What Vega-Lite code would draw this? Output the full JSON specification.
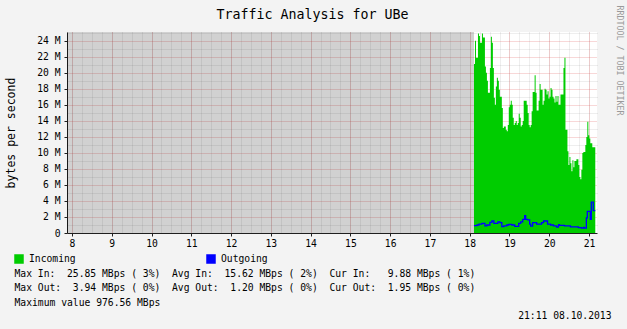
{
  "$schema": "https://vega.github.io/schema/vega-lite/v6.json",
  "width": 530,
  "height": 201,
  "autosize": {"type": "none"},
  "padding": {"left": 67, "top": 32, "right": 30, "bottom": 96},
  "background": "#f3f3f3",
  "config": {"view": {"fill": "#ffffff", "stroke": null}, "font": "DejaVu Sans Mono"},
  "title": {"text": "Traffic Analysis for UBe", "font": "DejaVu Sans Mono", "fontSize": 13.3, "fontWeight": "normal", "color": "#000000", "anchor": "middle", "frame": "group", "dx": -19.5, "dy": 23, "baseline": "middle", "offset": 0},
  "datasets": {
    "unknown": [{"t0": 7.87, "t1": 18.108}],
    "traffic": [
      {"t": 18.108, "in": 21.1, "out": 0.92}, {"t": 18.133, "in": 24.0, "out": 0.92}, {"t": 18.158, "in": 21.9, "out": 0.92}, {"t": 18.183, "in": 21.9, "out": 1.0},
      {"t": 18.208, "in": 24.9, "out": 1.0}, {"t": 18.233, "in": 24.6, "out": 1.1}, {"t": 18.258, "in": 23.75, "out": 1.1}, {"t": 18.283, "in": 23.75, "out": 1.1},
      {"t": 18.308, "in": 24.9, "out": 1.2}, {"t": 18.333, "in": 24.4, "out": 1.2}, {"t": 18.358, "in": 24.4, "out": 1.2}, {"t": 18.383, "in": 20.8, "out": 0.9},
      {"t": 18.408, "in": 20.0, "out": 0.9}, {"t": 18.433, "in": 19.0, "out": 1.0}, {"t": 18.458, "in": 17.5, "out": 1.0}, {"t": 18.483, "in": 17.5, "out": 1.0},
      {"t": 18.508, "in": 20.6, "out": 1.33}, {"t": 18.533, "in": 24.5, "out": 1.33}, {"t": 18.558, "in": 23.75, "out": 1.5}, {"t": 18.583, "in": 20.6, "out": 1.5},
      {"t": 18.608, "in": 16.9, "out": 1.2}, {"t": 18.633, "in": 16.0, "out": 1.2}, {"t": 18.658, "in": 18.3, "out": 1.2}, {"t": 18.683, "in": 19.4, "out": 1.2},
      {"t": 18.708, "in": 19.0, "out": 1.4}, {"t": 18.733, "in": 17.9, "out": 1.4}, {"t": 18.758, "in": 17.0, "out": 1.3}, {"t": 18.783, "in": 17.0, "out": 1.3},
      {"t": 18.808, "in": 15.6, "out": 0.8}, {"t": 18.833, "in": 13.1, "out": 0.8}, {"t": 18.858, "in": 13.3, "out": 0.88}, {"t": 18.883, "in": 13.3, "out": 0.88},
      {"t": 18.908, "in": 12.9, "out": 0.88}, {"t": 18.933, "in": 12.7, "out": 1.0}, {"t": 18.958, "in": 13.5, "out": 1.0}, {"t": 18.983, "in": 15.7, "out": 1.08},
      {"t": 19.008, "in": 16.0, "out": 1.08}, {"t": 19.033, "in": 16.5, "out": 1.08}, {"t": 19.058, "in": 16.0, "out": 1.0}, {"t": 19.083, "in": 14.4, "out": 1.0},
      {"t": 19.108, "in": 13.5, "out": 1.0}, {"t": 19.133, "in": 13.75, "out": 0.83}, {"t": 19.158, "in": 14.0, "out": 0.83}, {"t": 19.183, "in": 13.5, "out": 0.83},
      {"t": 19.208, "in": 13.75, "out": 0.83}, {"t": 19.233, "in": 14.9, "out": 1.2}, {"t": 19.258, "in": 14.4, "out": 1.2}, {"t": 19.283, "in": 13.3, "out": 1.4},
      {"t": 19.308, "in": 13.5, "out": 1.4}, {"t": 19.333, "in": 14.0, "out": 1.7}, {"t": 19.358, "in": 16.5, "out": 1.7}, {"t": 19.383, "in": 16.5, "out": 2.17},
      {"t": 19.408, "in": 16.5, "out": 1.7}, {"t": 19.433, "in": 16.0, "out": 1.7}, {"t": 19.458, "in": 15.0, "out": 1.63}, {"t": 19.483, "in": 13.5, "out": 1.63},
      {"t": 19.508, "in": 13.2, "out": 1.1}, {"t": 19.533, "in": 13.5, "out": 0.85}, {"t": 19.558, "in": 15.2, "out": 0.85}, {"t": 19.583, "in": 17.6, "out": 1.3},
      {"t": 19.608, "in": 17.6, "out": 1.3}, {"t": 19.633, "in": 19.7, "out": 1.3}, {"t": 19.658, "in": 17.5, "out": 1.3}, {"t": 19.683, "in": 15.3, "out": 1.1},
      {"t": 19.708, "in": 15.3, "out": 1.1}, {"t": 19.733, "in": 16.5, "out": 1.1}, {"t": 19.758, "in": 18.6, "out": 1.1}, {"t": 19.783, "in": 17.9, "out": 1.1},
      {"t": 19.808, "in": 17.9, "out": 1.3}, {"t": 19.833, "in": 16.0, "out": 1.3}, {"t": 19.858, "in": 16.5, "out": 1.5}, {"t": 19.883, "in": 18.0, "out": 1.5},
      {"t": 19.908, "in": 17.9, "out": 1.5}, {"t": 19.933, "in": 17.3, "out": 1.5}, {"t": 19.958, "in": 17.7, "out": 1.1}, {"t": 19.983, "in": 16.8, "out": 1.1},
      {"t": 20.008, "in": 17.0, "out": 1.1}, {"t": 20.033, "in": 18.1, "out": 1.0}, {"t": 20.058, "in": 17.9, "out": 1.0}, {"t": 20.083, "in": 17.0, "out": 1.0},
      {"t": 20.108, "in": 16.8, "out": 0.9}, {"t": 20.133, "in": 16.3, "out": 0.9}, {"t": 20.158, "in": 17.1, "out": 0.9}, {"t": 20.183, "in": 16.4, "out": 0.75},
      {"t": 20.208, "in": 17.1, "out": 0.75}, {"t": 20.233, "in": 16.0, "out": 1.05}, {"t": 20.258, "in": 16.0, "out": 0.95}, {"t": 20.283, "in": 17.3, "out": 0.95},
      {"t": 20.308, "in": 17.3, "out": 0.95}, {"t": 20.333, "in": 17.3, "out": 0.95}, {"t": 20.358, "in": 20.6, "out": 0.95}, {"t": 20.383, "in": 21.9, "out": 0.88},
      {"t": 20.408, "in": 12.9, "out": 0.88}, {"t": 20.433, "in": 12.9, "out": 0.88}, {"t": 20.458, "in": 10.2, "out": 0.88}, {"t": 20.483, "in": 8.5, "out": 0.88},
      {"t": 20.508, "in": 9.5, "out": 0.88}, {"t": 20.533, "in": 8.7, "out": 0.77}, {"t": 20.558, "in": 7.7, "out": 0.77}, {"t": 20.583, "in": 9.1, "out": 0.77},
      {"t": 20.608, "in": 8.2, "out": 0.77}, {"t": 20.633, "in": 9.0, "out": 0.77}, {"t": 20.658, "in": 9.0, "out": 0.77}, {"t": 20.683, "in": 9.2, "out": 0.77},
      {"t": 20.708, "in": 9.2, "out": 0.77}, {"t": 20.733, "in": 8.5, "out": 0.68}, {"t": 20.758, "in": 7.0, "out": 0.68}, {"t": 20.783, "in": 6.7, "out": 0.68},
      {"t": 20.808, "in": 7.9, "out": 0.62}, {"t": 20.833, "in": 10.0, "out": 0.62}, {"t": 20.858, "in": 10.1, "out": 0.7}, {"t": 20.883, "in": 10.1, "out": 0.62},
      {"t": 20.908, "in": 11.0, "out": 0.62}, {"t": 20.933, "in": 12.0, "out": 1.9}, {"t": 20.958, "in": 13.9, "out": 2.7}, {"t": 20.983, "in": 12.2, "out": 2.7},
      {"t": 21.008, "in": 11.8, "out": 2.7}, {"t": 21.033, "in": 11.2, "out": 1.7}, {"t": 21.058, "in": 11.2, "out": 3.85}, {"t": 21.083, "in": 10.7, "out": 3.85},
      {"t": 21.108, "in": 10.7, "out": 2.8}, {"t": 21.133, "in": 10.7, "out": 2.8}, {"t": 21.158, "in": 10.7, "out": 2.8}
    ]
  },
  "layer": [
    {
      "data": {"name": "unknown"},
      "mark": {"type": "rect", "fill": "#000000", "opacity": 0.18, "clip": true},
      "encoding": {
        "x": {"field": "t0", "type": "quantitative", "axis": null, "scale": {"domain": [7.8743, 21.2012], "nice": false, "zero": false}},
        "x2": {"field": "t1"}
      }
    },
    {
      "data": {"name": "traffic"},
      "mark": {"type": "area", "interpolate": "step-after", "opacity": 1},
      "encoding": {
        "x": {"field": "t", "type": "quantitative", "scale": {"domain": [7.8743, 21.2012], "nice": false, "zero": false},
          "axis": {"orient": "bottom", "values": [8, 8.25, 8.5, 8.75, 9, 9.25, 9.5, 9.75, 10, 10.25, 10.5, 10.75, 11, 11.25, 11.5, 11.75, 12, 12.25, 12.5, 12.75, 13, 13.25, 13.5, 13.75, 14, 14.25, 14.5, 14.75, 15, 15.25, 15.5, 15.75, 16, 16.25, 16.5, 16.75, 17, 17.25, 17.5, 17.75, 18, 18.25, 18.5, 18.75, 19, 19.25, 19.5, 19.75, 20, 20.25, 20.5, 20.75, 21],
            "grid": true, "gridColor": "#808080", "gridOpacity": 0.28, "gridDash": [1, 1], "labels": false, "ticks": false, "domain": false,
            "title": "21:11 08.10.2013", "titleFont": "DejaVu Sans Mono", "titleFontSize": 9.7, "titleFontWeight": "normal", "titleColor": "#000000",
            "titleX": 544, "titleY": 82.3, "titleAlign": "right", "titleBaseline": "middle", "titleAngle": 0}},
        "y": {"field": "in", "type": "quantitative", "scale": {"domain": [0, 25.1], "nice": false},
          "axis": {"orient": "right", "values": [1, 3, 5, 7, 9, 11, 13, 15, 17, 19, 21, 23, 25],
            "grid": true, "gridColor": "#808080", "gridOpacity": 0.28, "gridDash": [1, 1], "labels": false, "ticks": false, "domain": false,
            "title": "RRDTOOL / TOBI OETIKER", "titleFont": "DejaVu Sans Mono", "titleFontSize": 8.3, "titleFontWeight": "normal", "titleColor": "#9a9a9a",
            "titleAngle": 90, "titleX": 21, "titleY": 28, "titleAlign": "center", "titleBaseline": "middle"}},
        "color": {"datum": "Incoming", "type": "nominal",
          "scale": {"domain": ["Incoming", "Outgoing"], "range": ["#00cc00", "#0000ff"]},
          "legend": {"orient": "none", "legendX": -53, "legendY": 222, "direction": "horizontal", "title": null, "padding": 0,
            "symbolType": "square", "symbolSize": 64, "labelFont": "DejaVu Sans Mono", "labelFontSize": 9.7, "labelColor": "#000000",
            "labelOffset": 5, "columnPadding": 128,
            "encode": {"symbols": {"update": {"fill": {"scale": "color", "field": "value"}, "stroke": {"value": "#000000"}, "strokeWidth": {"value": 1}, "opacity": {"value": 1}}}}}}
      }
    },
    {
      "data": {"name": "traffic"},
      "mark": {"type": "line", "interpolate": "step-after", "strokeWidth": 1.3},
      "encoding": {
        "x": {"field": "t", "type": "quantitative", "scale": {"domain": [7.8743, 21.2012], "nice": false, "zero": false},
          "axis": {"orient": "bottom", "values": [8, 9, 10, 11, 12, 13, 14, 15, 16, 17, 18, 19, 20, 21],
            "grid": true, "gridColor": "#e05050", "gridOpacity": 0.45, "gridDash": [1, 1],
            "domain": true, "domainColor": "#1f1f1f", "ticks": true, "tickSize": 3, "tickColor": "#1f1f1f",
            "labelFont": "DejaVu Sans Mono", "labelFontSize": 9.7, "labelColor": "#000000", "labelPadding": 2, "labelFlush": false, "labelOverlap": false, "labelBound": false,
            "labelExpr": "datum.value < 10 ? '\u00a0' + datum.value : '' + datum.value",
            "title": [
              "Max\u00a0In:\u00a0\u00a025.85\u00a0MBps\u00a0(\u00a03%)\u00a0\u00a0Avg\u00a0In:\u00a0\u00a015.62\u00a0MBps\u00a0(\u00a02%)\u00a0\u00a0Cur\u00a0In:\u00a0\u00a0\u00a09.88\u00a0MBps\u00a0(\u00a01%)",
              "Max\u00a0Out:\u00a0\u00a03.94\u00a0MBps\u00a0(\u00a00%)\u00a0\u00a0Avg\u00a0Out:\u00a0\u00a01.20\u00a0MBps\u00a0(\u00a00%)\u00a0\u00a0Cur\u00a0Out:\u00a0\u00a01.95\u00a0MBps\u00a0(\u00a00%)",
              "Maximum\u00a0value\u00a0976.56\u00a0MBps"
            ],
            "titleFont": "DejaVu Sans Mono", "titleFontSize": 9.7, "titleFontWeight": "normal", "titleColor": "#000000",
            "titleAlign": "left", "titleBaseline": "alphabetic", "titleX": -53, "titleY": 43.8, "titleLineHeight": 14.2, "titleAngle": 0}},
        "y": {"field": "out", "type": "quantitative", "scale": {"domain": [0, 25.1], "nice": false},
          "axis": {"orient": "left", "values": [0, 2, 4, 6, 8, 10, 12, 14, 16, 18, 20, 22, 24],
            "grid": true, "gridColor": "#e05050", "gridOpacity": 0.45, "gridDash": [1, 1],
            "domain": true, "domainColor": "#1f1f1f", "ticks": true, "tickSize": 3, "tickColor": "#1f1f1f",
            "labelFont": "DejaVu Sans Mono", "labelFontSize": 9.7, "labelColor": "#000000", "labelPadding": 4, "labelFlush": false, "labelOverlap": false, "labelBound": false,
            "labelExpr": "datum.value == 0 ? '0' : datum.value + ' M'",
            "title": "bytes per second", "titleFont": "DejaVu Sans Mono", "titleFontSize": 11.5, "titleFontWeight": "normal", "titleColor": "#000000",
            "titleAngle": -90, "titleX": -56, "titleY": 100.5, "titleAlign": "center", "titleBaseline": "middle"}},
        "color": {"datum": "Outgoing", "type": "nominal"}
      }
    }
  ],
  "resolve": {"axis": {"x": "independent", "y": "independent"}}
}
